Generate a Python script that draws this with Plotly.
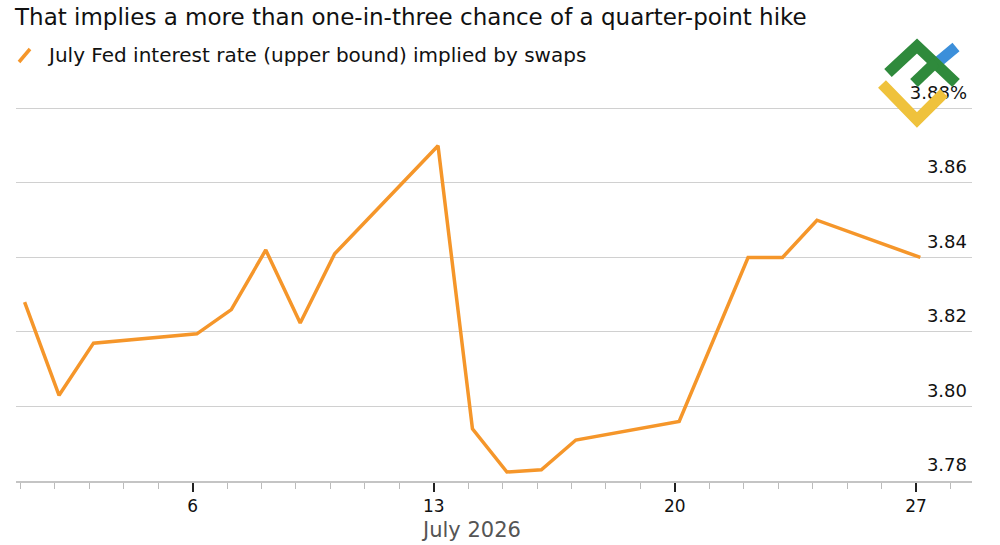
import plotly.graph_objects as go

# ---- data ----
dates = ["2026-07-01 03:00", "2026-07-02 03:00", "2026-07-03 03:00", "2026-07-06 03:00",
         "2026-07-07 03:00", "2026-07-08 03:00", "2026-07-09 03:00", "2026-07-10 03:00",
         "2026-07-13 03:00", "2026-07-14 03:00", "2026-07-15 03:00", "2026-07-16 03:00",
         "2026-07-17 03:00", "2026-07-20 03:00", "2026-07-22 03:00", "2026-07-23 03:00",
         "2026-07-24 03:00", "2026-07-27 03:00"]
rate = [3.828, 3.803, 3.817, 3.8195, 3.826, 3.842, 3.8224, 3.841,
        3.870, 3.794, 3.7824, 3.783, 3.791, 3.796, 3.840, 3.840, 3.850, 3.840]
x_tickvals = ["2026-07-06", "2026-07-13", "2026-07-20", "2026-07-27"]
x_ticktext = ["6", "13", "20", "27"]
y_ticks = [3.78, 3.80, 3.82, 3.84, 3.86, 3.88]
y_ticktext = ["3.78", "3.80", "3.82", "3.84", "3.86", "3.88%"]
series_name = "July Fed interest rate (upper bound) implied by swaps"
title_text = "That implies a more than one-in-three chance of a quarter-point hike"
x_title = "July 2026"

W, H = 1000, 545
ML, MR, MT, MB = 16, 28, 95, 64
FONT = "DejaVu Sans, Liberation Sans, Arial, sans-serif"
ORANGE = "#F5962A"

def px(x):
    return (x - ML) / (W - ML - MR)

def py(y):
    return (H - MB - y) / (H - MT - MB)

fig = go.Figure()
fig.add_trace(go.Scatter(x=dates, y=rate, mode="lines", name=series_name,
                         line=dict(color=ORANGE, width=3.5), showlegend=False))

shapes = []
# legend swatch (slanted)
shapes.append(dict(type="line", xref="paper", yref="paper",
                   x0=px(19), y0=py(62), x1=px(30), y1=py(49),
                   line=dict(color=ORANGE, width=3.5)))

# watermark logo
def seg(points, color):
    path = "M " + " L ".join(f"{px(a)},{py(b)}" for a, b in points)
    return dict(type="path", xref="paper", yref="paper", path=path,
                line=dict(color=color, width=11), layer="above")

shapes.append(seg([(938, 62), (956, 47)], "#3C8FDA"))
shapes.append(seg([(888, 73), (917, 46), (956, 83)], "#2F8A3C"))
shapes.append(seg([(914, 83), (936, 62)], "#2F8A3C"))
shapes.append(seg([(882, 84), (917, 120), (944, 93)], "#EFC23C"))

annotations = [
    dict(text=title_text, xref="paper", yref="paper", x=px(12), y=py(17),
         xanchor="left", yanchor="middle", showarrow=False,
         font=dict(family=FONT, size=23, color="#111111")),
    dict(text=series_name, xref="paper", yref="paper", x=px(45), y=py(55),
         xanchor="left", yanchor="middle", showarrow=False,
         font=dict(family=FONT, size=20, color="#111111")),
    dict(text=x_title, xref="paper", yref="paper", x=px(471), y=py(530),
         xanchor="center", yanchor="middle", showarrow=False,
         font=dict(family=FONT, size=21, color="#555555")),
]

fig.update_layout(
    width=W, height=H,
    margin=dict(l=ML, r=MR, t=MT, b=MB),
    plot_bgcolor="white", paper_bgcolor="white",
    shapes=shapes, annotations=annotations,
    font=dict(family=FONT, color="#111111"),
    xaxis=dict(
        type="date",
        range=["2026-06-30 21:00", "2026-07-28 15:00"],
        tickvals=x_tickvals, ticktext=x_ticktext,
        ticks="outside", ticklen=9, tickwidth=2, tickcolor="#222222",
        tickfont=dict(family=FONT, size=17, color="#111111"),
        showgrid=False, showline=True, linecolor="#C4C4C4", linewidth=2,
        zeroline=False,
        minor=dict(dtick=86400000, tick0="2026-07-06", ticks="outside",
                   ticklen=6, tickwidth=1, tickcolor="#BBBBBB", showgrid=False),
    ),
    yaxis=dict(
        range=[3.78, 3.8836], side="right",
        tickvals=y_ticks, ticktext=y_ticktext,
        ticklabelposition="inside", ticklabelstandoff=2, ticklabelshift=-16,
        ticklabeloverflow="allow",
        ticks="", showline=False, zeroline=False,
        showgrid=True, gridcolor="#D0D0D0", gridwidth=1,
        tickfont=dict(family=FONT, size=18, color="#111111"),
    ),
)

fig.write_html("out.html")
